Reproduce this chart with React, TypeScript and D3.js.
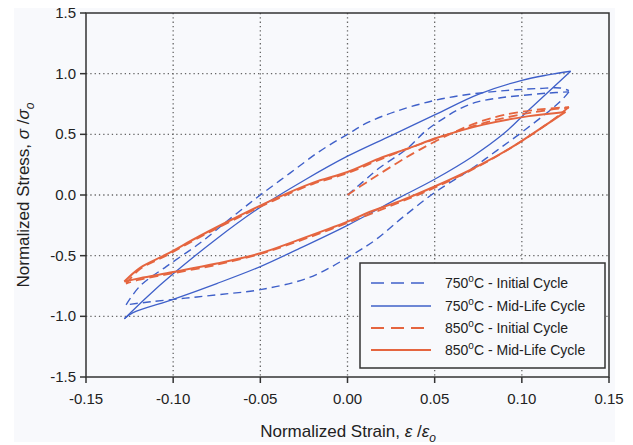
import React from "react";
import * as d3 from "d3";

type P = [number, number];

// ---- tick values ----
const xTicks = [-0.15, -0.1, -0.05, 0, 0.05, 0.1, 0.15];
const yTicks = [-1.5, -1.0, -0.5, 0, 0.5, 1.0, 1.5];
const xGrid = [-0.1, -0.05, 0, 0.05, 0.1];
const yGrid = [-1.0, -0.5, 0, 0.5, 1.0];

// ---- 750°C initial cycle (dashed blue) ----
const init750Loading: P[] = [
  [0, 0], [0.009, 0.11], [0.018, 0.22], [0.034, 0.38], [0.045, 0.53], [0.055, 0.63],
  [0.063, 0.7], [0.074, 0.765], [0.087, 0.8], [0.1, 0.82], [0.115, 0.84], [0.127, 0.85],
];
const init750Unloading: P[] = [
  [0.127, 0.85], [0.122, 0.77], [0.103, 0.55], [0.086, 0.37], [0.07, 0.205], [0.05, 0.02],
  [0.032, -0.18], [0.017, -0.36], [0.003, -0.49], [-0.022, -0.68], [-0.05, -0.78],
  [-0.073, -0.82], [-0.093, -0.85], [-0.113, -0.88], [-0.127, -0.905],
];
const init750Reloading: P[] = [
  [-0.127, -0.905], [-0.119, -0.75], [-0.104, -0.59], [-0.085, -0.4], [-0.066, -0.18],
  [-0.05, 0.0], [-0.033, 0.18], [-0.016, 0.36], [0, 0.5], [0.012, 0.6], [0.028, 0.69],
  [0.05, 0.78], [0.07, 0.83], [0.09, 0.86], [0.11, 0.878], [0.122, 0.882], [0.127, 0.86],
];

// ---- 750°C mid-life cycle (solid blue) ----
const mid750Upper: P[] = [
  [-0.128, -1.02], [-0.115, -0.84], [-0.1, -0.65], [-0.075, -0.36], [-0.05, -0.1],
  [-0.025, 0.12], [0, 0.32], [0.025, 0.49], [0.05, 0.66], [0.075, 0.83], [0.1, 0.945],
  [0.115, 0.99], [0.128, 1.02],
];
const mid750Lower: P[] = [
  [0.128, 1.02], [0.104, 0.7], [0.09, 0.51], [0.072, 0.32], [0.05, 0.13], [0.03, -0.02],
  [0, -0.25], [-0.0275, -0.44], [-0.05, -0.59], [-0.075, -0.73], [-0.1, -0.86],
  [-0.123, -0.97], [-0.128, -1.02],
];

// ---- 850°C initial cycle (dashed orange) ----
const init850Loading: P[] = [
  [0, 0], [0.0126, 0.12], [0.028, 0.26], [0.041, 0.37], [0.06, 0.51], [0.075, 0.6],
  [0.09, 0.66], [0.11, 0.705], [0.127, 0.725],
];
const init850Unloading: P[] = [
  [0.127, 0.725], [0.116, 0.6], [0.095, 0.4], [0.075, 0.235], [0.05, 0.06], [0.03, -0.06],
  [0, -0.23], [-0.03, -0.39], [-0.05, -0.485], [-0.075, -0.575], [-0.1, -0.645],
  [-0.12, -0.7], [-0.127, -0.73],
];
const init850Reloading: P[] = [
  [-0.127, -0.73], [-0.119, -0.61], [-0.104, -0.5], [-0.085, -0.35], [-0.066, -0.21],
  [-0.043, -0.05], [-0.02, 0.09], [0, 0.18], [0.02, 0.3], [0.04, 0.41], [0.06, 0.51],
  [0.08, 0.6], [0.1, 0.665], [0.115, 0.7], [0.127, 0.72],
];

// ---- 850°C mid-life cycle (solid orange) ----
const mid850Upper: P[] = [
  [-0.128, -0.713], [-0.119, -0.6], [-0.104, -0.49], [-0.085, -0.34], [-0.066, -0.2],
  [-0.043, -0.04], [-0.02, 0.1], [0, 0.19], [0.018, 0.3], [0.036, 0.39], [0.051, 0.47],
  [0.078, 0.58], [0.104, 0.65], [0.125, 0.685],
];
const mid850Lower: P[] = [
  [0.125, 0.685], [0.114, 0.58], [0.095, 0.4], [0.075, 0.24], [0.05, 0.07], [0.03, -0.05],
  [0.0126, -0.14], [0, -0.22], [-0.03, -0.38], [-0.05, -0.48], [-0.075, -0.565],
  [-0.1, -0.635], [-0.119, -0.685], [-0.128, -0.713],
];

// ---- legend ----
const legendTemps = ["750", "750", "850", "850"];
const legendCycles = ["Initial Cycle", "Mid-Life Cycle", "Initial Cycle", "Mid-Life Cycle"];

const BLUE = "#3f60c9";
const ORANGE = "#e5653f";
const FONT = "'Liberation Sans', Arial, Helvetica, sans-serif";

const W = 633;
const H = 445;
const L = 86, R = 609, T = 13, B = 377;

export default function App() {
  const x = d3.scaleLinear().domain([-0.15, 0.15]).range([L, R]);
  const y = d3.scaleLinear().domain([-1.5, 1.5]).range([B, T]);
  const line = d3
    .line<P>()
    .x((d) => x(d[0]))
    .y((d) => y(d[1]))
    .curve(d3.curveCatmullRom.alpha(0.5));

  const series = [
    { segs: [init750Loading, init750Unloading, init750Reloading], color: BLUE, dash: "8,5", w: 1.4 },
    { segs: [mid750Upper, mid750Lower], color: BLUE, dash: null, w: 1.3 },
    { segs: [init850Loading, init850Unloading, init850Reloading], color: ORANGE, dash: "9,5", w: 1.8 },
    { segs: [mid850Upper, mid850Lower], color: ORANGE, dash: null, w: 2.0 },
  ];

  const fmtX = (v: number) => v.toFixed(2);
  const fmtY = (v: number) => v.toFixed(1);

  const legX = 360, legY = 263, legW = 245, legH = 105;
  const rowY = [283, 306, 328, 350];

  return (
    <div style={{ position: "fixed", left: 0, top: 0 }}>
      <svg width={W} height={H} style={{ display: "block", background: "#ffffff" }}>
        <rect x={14} y={8} width={601} height={434} fill="#f8f9fc" />
        {/* grid */}
        {xGrid.map((v) => (
          <line key={"gx" + v} x1={x(v)} x2={x(v)} y1={T} y2={B} stroke="#666" strokeWidth={1.3} strokeDasharray="1.3,3" />
        ))}
        {yGrid.map((v) => (
          <line key={"gy" + v} x1={L} x2={R} y1={y(v)} y2={y(v)} stroke="#666" strokeWidth={1.3} strokeDasharray="1.3,3" />
        ))}
        {/* series */}
        <g clipPath="url(#clip)">
          {series.map((s, i) =>
            s.segs.map((seg, j) => (
              <path
                key={i + "-" + j}
                d={line(seg) || ""}
                fill="none"
                stroke={s.color}
                strokeWidth={s.w}
                strokeDasharray={s.dash || undefined}
                strokeLinejoin="round"
              />
            ))
          )}
        </g>
        <defs>
          <clipPath id="clip">
            <rect x={L} y={T} width={R - L} height={B - T} />
          </clipPath>
        </defs>
        {/* frame */}
        <rect x={L} y={T} width={R - L} height={B - T} fill="none" stroke="#333" strokeWidth={1.5} />
        {/* x ticks */}
        {xTicks.map((v) => (
          <g key={"xt" + v}>
            <line x1={x(v)} x2={x(v)} y1={B} y2={B + 6} stroke="#333" strokeWidth={1.5} />
            <text x={x(v)} y={404} textAnchor="middle" fontFamily={FONT} fontSize={15} fill="#222">
              {fmtX(v)}
            </text>
          </g>
        ))}
        {/* y ticks */}
        {yTicks.map((v) => (
          <g key={"yt" + v}>
            <line x1={L - 6} x2={L} y1={y(v)} y2={y(v)} stroke="#333" strokeWidth={1.5} />
            <text x={76} y={y(v) + 5} textAnchor="end" fontFamily={FONT} fontSize={15} fill="#222">
              {fmtY(v)}
            </text>
          </g>
        ))}
        {/* axis titles */}
        <text x={348} y={437} textAnchor="middle" fontFamily={FONT} fontSize={17} fill="#222">
          Normalized Strain,{" "}
          <tspan fontStyle="italic">ε</tspan>
          <tspan> /</tspan>
          <tspan fontStyle="italic">ε</tspan>
          <tspan fontStyle="italic" fontSize={12} dy={5}>o</tspan>
        </text>
        <text
          transform={`translate(29,${(T + B) / 2}) rotate(-90)`}
          textAnchor="middle"
          fontFamily={FONT}
          fontSize={17}
          fill="#222"
        >
          Normalized Stress,{" "}
          <tspan fontStyle="italic">σ</tspan>
          <tspan> /</tspan>
          <tspan fontStyle="italic">σ</tspan>
          <tspan fontStyle="italic" fontSize={12} dy={5}>o</tspan>
        </text>
        {/* legend */}
        <rect x={legX} y={legY} width={legW} height={legH} fill="#f8f9fc" stroke="#333" strokeWidth={1.5} />
        {series.map((s, i) => (
          <g key={"lg" + i}>
            <line
              x1={371}
              x2={431}
              y1={rowY[i]}
              y2={rowY[i]}
              stroke={s.color}
              strokeWidth={s.w}
              strokeDasharray={s.dash ? "13,7" : undefined}
            />
            <text x={445} y={rowY[i] + 5} fontFamily={FONT} fontSize={14} fill="#222">
              {legendTemps[i]}
              <tspan fontSize={10} dy={-6}>o</tspan>
              <tspan dy={6}>C - {legendCycles[i]}</tspan>
            </text>
          </g>
        ))}
      </svg>
    </div>
  );
}
